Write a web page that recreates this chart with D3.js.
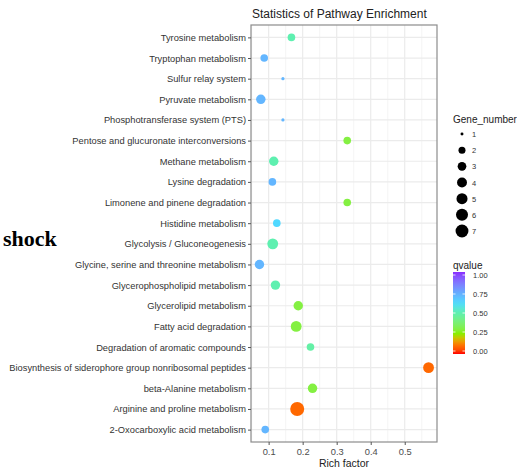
<!DOCTYPE html>
<html lang="en">
  <head>
    <meta charset="UTF-8" />
    <title>Statistics of Pathway Enrichment</title>
    <script src="https://d3js.org/d3.v7.min.js"></script>
    <style>
      body {
        margin: 0;
        padding: 0;
        background: #fff;
      }
      svg {
        display: block;
        font-family: "Liberation Sans", Arial, sans-serif;
      }
    </style>
  </head>
  <body>
    <svg width="517" height="470"></svg>
    <script>
      // pathway names, top to bottom
      const pathways = [
        "Tyrosine metabolism",
        "Tryptophan metabolism",
        "Sulfur relay system",
        "Pyruvate metabolism",
        "Phosphotransferase system (PTS)",
        "Pentose and glucuronate interconversions",
        "Methane metabolism",
        "Lysine degradation",
        "Limonene and pinene degradation",
        "Histidine metabolism",
        "Glycolysis / Gluconeogenesis",
        "Glycine, serine and threonine metabolism",
        "Glycerophospholipid metabolism",
        "Glycerolipid metabolism",
        "Fatty acid degradation",
        "Degradation of aromatic compounds",
        "Biosynthesis of siderophore group nonribosomal peptides",
        "beta-Alanine metabolism",
        "Arginine and proline metabolism",
        "2-Oxocarboxylic acid metabolism",
      ];
      const richFactor = [
        0.167, 0.087, 0.142, 0.077, 0.142, 0.331, 0.115, 0.111, 0.331, 0.124,
        0.112, 0.073, 0.12, 0.187, 0.181, 0.223, 0.57, 0.229, 0.184, 0.09,
      ];
      const geneNumber = [2, 2, 1, 3, 1, 2, 3, 2, 2, 2, 4, 3, 3, 3, 4, 2, 4, 3, 7, 2];
      const qvalue = [
        0.5, 0.72, 0.72, 0.72, 0.72, 0.3, 0.5, 0.72, 0.3, 0.63,
        0.5, 0.72, 0.5, 0.3, 0.3, 0.48, 0.09, 0.3, 0.09, 0.72,
      ];
      const xTicks = [0.1, 0.2, 0.3, 0.4, 0.5];
      const sizeBreaks = [1, 2, 3, 4, 5, 6, 7];
      const qTicks = [0, 0.25, 0.5, 0.75, 1];

      const data = pathways.map((name, i) => ({
        name: name,
        rich: richFactor[i],
        n: geneNumber[i],
        q: qvalue[i],
      }));

      const panel = { left: 251, right: 437, top: 25, bottom: 442 };
      const svg = d3.select("svg");

      // ggplot-like 5% expansion
      const ext = d3.extent(richFactor);
      const pad = (ext[1] - ext[0]) * 0.05;
      const x = d3
        .scaleLinear()
        .domain([ext[0] - pad, ext[1] + pad])
        .range([panel.left, panel.right]);

      const y = d3
        .scalePoint()
        .domain(pathways)
        .range([panel.top, panel.bottom])
        .padding(0.6);

      // area palette like scale_size
      const sizeT = d3.scaleLinear().domain([1, 7]).range([0, 1]);
      const sizeR = d3.scaleLinear().domain([0, 1]).range([1.6, 7]);
      const radius = (n) => sizeR(Math.sqrt(sizeT(n)));

      const color = d3
        .scaleLinear()
        .domain([0, 0.12, 0.25, 0.5, 0.62, 0.75, 1])
        .range(["#ff0000", "#ff7a00", "#88f000", "#5ef0b0", "#4ddcff", "#66aaff", "#8a2cff"])
        .interpolate(d3.interpolateLab);

      // grid
      const grid = svg.append("g");
      const minor = [];
      for (let i = 0; i < xTicks.length + 1; i++) minor.push(xTicks[0] - 0.05 + i * 0.1);
      grid
        .selectAll("line.minor")
        .data(minor.filter((v) => x(v) > panel.left && x(v) < panel.right))
        .join("line")
        .attr("x1", (d) => x(d))
        .attr("x2", (d) => x(d))
        .attr("y1", panel.top)
        .attr("y2", panel.bottom)
        .attr("stroke", "#f2f2f2")
        .attr("stroke-width", 0.8);
      grid
        .selectAll("line.vmajor")
        .data(xTicks)
        .join("line")
        .attr("x1", (d) => x(d))
        .attr("x2", (d) => x(d))
        .attr("y1", panel.top)
        .attr("y2", panel.bottom)
        .attr("stroke", "#ebebeb")
        .attr("stroke-width", 1.2);
      grid
        .selectAll("line.hmajor")
        .data(pathways)
        .join("line")
        .attr("x1", panel.left)
        .attr("x2", panel.right)
        .attr("y1", (d) => y(d))
        .attr("y2", (d) => y(d))
        .attr("stroke", "#ebebeb")
        .attr("stroke-width", 1.2);

      // points
      svg
        .append("g")
        .selectAll("circle")
        .data(data)
        .join("circle")
        .attr("cx", (d) => x(d.rich))
        .attr("cy", (d) => y(d.name))
        .attr("r", (d) => radius(d.n))
        .attr("fill", (d) => color(d.q));

      // panel border
      svg
        .append("rect")
        .attr("x", panel.left)
        .attr("y", panel.top)
        .attr("width", panel.right - panel.left)
        .attr("height", panel.bottom - panel.top)
        .attr("fill", "none")
        .attr("stroke", "#8c8c8c")
        .attr("stroke-width", 1.2);

      // axes
      const yAxis = svg
        .append("g")
        .attr("transform", `translate(${panel.left},0)`)
        .call(d3.axisLeft(y).tickSize(3).tickPadding(2));
      yAxis.select(".domain").remove();
      yAxis.selectAll(".tick line").attr("stroke", "#555");
      yAxis
        .selectAll(".tick text")
        .attr("fill", "#333")
        .style("font-size", "9.3px")
        .style("font-family", "'Liberation Sans', Arial, sans-serif");

      const xAxis = svg
        .append("g")
        .attr("transform", `translate(0,${panel.bottom})`)
        .call(
          d3
            .axisBottom(x)
            .tickValues(xTicks)
            .tickFormat(d3.format(".1f"))
            .tickSize(3)
            .tickPadding(3)
        );
      xAxis.select(".domain").remove();
      xAxis.selectAll(".tick line").attr("stroke", "#555");
      xAxis
        .selectAll(".tick text")
        .attr("fill", "#4d4d4d")
        .style("font-size", "9.3px")
        .style("font-family", "'Liberation Sans', Arial, sans-serif");

      svg
        .append("text")
        .attr("x", (panel.left + panel.right) / 2)
        .attr("y", 467)
        .attr("text-anchor", "middle")
        .attr("font-size", 10.5)
        .attr("fill", "#222")
        .text("Rich factor");

      svg
        .append("text")
        .attr("x", panel.left + 1)
        .attr("y", 18)
        .attr("font-size", 12)
        .attr("fill", "#222")
        .text("Statistics of Pathway Enrichment");

      svg
        .append("text")
        .attr("x", 3)
        .attr("y", 246)
        .attr("font-family", "'Liberation Serif', 'Times New Roman', serif")
        .attr("font-weight", "bold")
        .attr("font-size", 22)
        .attr("fill", "#000")
        .text("shock");

      // size legend
      const sizeLeg = svg.append("g").attr("transform", "translate(453,0)");
      sizeLeg
        .append("text")
        .attr("x", 0)
        .attr("y", 123)
        .attr("font-size", 10)
        .attr("fill", "#222")
        .text("Gene_number");
      const ly = d3.scaleLinear().domain([1, 7]).range([134, 231]);
      sizeLeg
        .selectAll("circle")
        .data(sizeBreaks)
        .join("circle")
        .attr("cx", 9)
        .attr("cy", (d) => ly(d))
        .attr("r", (d) => radius(d) * 0.92)
        .attr("fill", "#000");
      sizeLeg
        .selectAll("text.lab")
        .data(sizeBreaks)
        .join("text")
        .attr("class", "lab")
        .attr("x", 19)
        .attr("y", (d) => ly(d) + 3)
        .attr("font-size", 7.5)
        .attr("fill", "#333")
        .text((d) => d);

      // qvalue colourbar
      const cb = svg.append("g").attr("transform", "translate(453,0)");
      cb.append("text")
        .attr("x", 0)
        .attr("y", 269)
        .attr("font-size", 10)
        .attr("fill", "#222")
        .text("qvalue");
      const qy = d3.scaleLinear().domain([0, 1]).range([351, 275]);
      const defs = svg.append("defs");
      const grad = defs
        .append("linearGradient")
        .attr("id", "qgrad")
        .attr("x1", 0)
        .attr("x2", 0)
        .attr("y1", 1)
        .attr("y2", 0);
      d3.range(0, 1.0001, 0.05).forEach((t) => {
        grad.append("stop").attr("offset", t).attr("stop-color", color(t));
      });
      cb.append("rect")
        .attr("x", 0)
        .attr("y", qy(1) - 3)
        .attr("width", 12)
        .attr("height", qy(0) - qy(1) + 6)
        .attr("fill", "url(#qgrad)");
      cb.selectAll("line.tk")
        .data(qTicks)
        .join("line")
        .attr("x1", 0)
        .attr("x2", 2.5)
        .attr("y1", (d) => qy(d))
        .attr("y2", (d) => qy(d))
        .attr("stroke", "#fff")
        .attr("stroke-width", 0.8);
      cb.selectAll("line.tk2")
        .data(qTicks)
        .join("line")
        .attr("x1", 9.5)
        .attr("x2", 12)
        .attr("y1", (d) => qy(d))
        .attr("y2", (d) => qy(d))
        .attr("stroke", "#fff")
        .attr("stroke-width", 0.8);
      cb.selectAll("text.lab")
        .data(qTicks)
        .join("text")
        .attr("class", "lab")
        .attr("x", 20)
        .attr("y", (d) => qy(d) + 3)
        .attr("font-size", 7.5)
        .attr("fill", "#333")
        .text((d) => d.toFixed(2));
    </script>
  </body>
</html>
